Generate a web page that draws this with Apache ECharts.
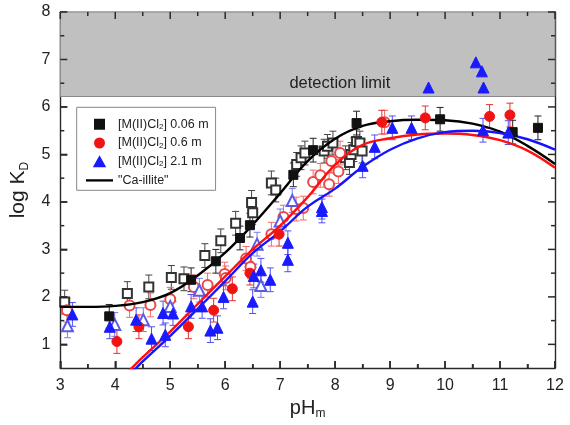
<!DOCTYPE html>
<html>
<head>
<meta charset="utf-8">
<script src="https://cdn.jsdelivr.net/npm/echarts@6/dist/echarts.min.js"></script>
<style>
html,body{margin:0;padding:0;background:#fff;}
#chart{width:570px;height:425px;}
</style>
</head>
<body>
<div id="chart"></div>
<script>
// ---------------- data ----------------
var xMin = 3, xMax = 12, yMin = 0.5, yMax = 8;
var xTickStep = 1;
var xMajorTicks = [3, 4, 5, 6, 7, 8, 9, 10, 11, 12];
var xMinorTicks = [3.5, 4.5, 5.5, 6.5, 7.5, 8.5, 9.5, 10.5, 11.5];
var yTicks = [1, 2, 3, 4, 5, 6, 7, 8];
var yMinorTicks = [1.5, 2.5, 3.5, 4.5, 5.5, 6.5, 7.5];
var detectionLimit = 6.22;
var errHalf = 0.25;

var seriesNames = ['[M(II)Cl2] 0.06 m', '[M(II)Cl2] 0.6 m', '[M(II)Cl2] 2.1 m', '"Ca-illite"'];

var blackFilled = [[3.89,1.59],[5.38,2.36],[5.83,2.75],[6.27,3.24],[6.45,3.51],[7.24,4.57],[7.60,5.09],[8.39,5.66],[9.91,5.74],[11.23,5.47],[11.69,5.56]];
var blackOpen = [[3.08,1.89],[4.22,2.07],[4.61,2.21],[5.02,2.41],[5.25,2.38],[5.63,2.87],[5.92,3.18],[6.19,3.55],[6.48,3.99],[6.50,3.77],[6.84,4.40],[6.92,4.25],[7.30,4.79],[7.38,4.93],[7.45,5.03],[7.80,5.07],[7.86,5.17],[7.96,5.24],[8.19,4.93],[8.26,4.83],[8.29,5.00],[8.34,5.10],[8.39,5.27],[8.45,5.24],[8.49,5.07]];

var redFilled = [[4.03,1.06],[4.43,1.37],[5.33,1.37],[5.79,1.72],[6.13,2.17],[6.45,2.50],[6.98,3.32],[8.85,5.68],[9.64,5.77],[10.81,5.80],[11.18,5.83]];
var redOpen = [[3.12,1.72],[4.26,1.82],[4.64,1.83],[5.00,1.95],[5.43,2.21],[5.68,2.25],[5.99,2.48],[6.01,2.40],[6.38,2.81],[6.46,2.63],[6.84,3.32],[7.06,3.68],[7.29,3.85],[7.42,3.87],[7.60,4.42],[7.73,4.56],[7.89,4.37],[7.93,4.86],[8.06,4.64],[8.09,5.03],[8.90,5.68]];

var blueFilled = [[3.22,1.63],[3.90,1.37],[4.38,1.52],[4.66,1.12],[4.91,1.20],[4.87,1.66],[5.05,1.65],[5.38,1.80],[5.58,1.80],[5.73,1.29],[5.86,1.35],[5.97,2.00],[6.50,1.90],[6.52,2.44],[6.65,2.56],[6.82,2.36],[7.14,3.14],[7.14,2.78],[7.76,3.89],[7.76,3.81],[8.50,4.76],[8.72,5.16],[9.04,5.56],[9.39,5.56],[10.69,5.51],[11.15,5.46]];
var blueAboveLimit = [[9.70,6.41],[10.56,6.94],[10.67,6.75],[10.70,6.41]];
var blueOpen = [[3.13,1.39],[3.99,1.42],[4.51,1.52],[5.00,1.80],[5.53,2.14],[6.58,3.11],[6.65,2.24],[7.00,3.60],[7.22,4.03]];

var curvePH = [3,3.5,4,4.5,5,5.5,6,6.5,7,7.5,8,8.5,9,9.5,10,10.5,11,11.5,12];
var curveCaIllite = [1.79,1.79,1.81,1.89,2.08,2.45,2.93,3.52,4.18,4.86,5.33,5.60,5.70,5.73,5.72,5.65,5.48,5.18,4.80];
var curveRedPH = [4.2,4.3,4.5,5,5.5,6,6.5,7,7.5,8,8.5,9,9.5,10,10.5,11,11.5,12];
var curveRed = [0.38,0.5,0.73,1.27,1.85,2.43,3.0,3.5,4.1,4.78,5.2,5.34,5.42,5.44,5.41,5.30,5.08,4.72];
var curveBluePH = [4.3,4.38,4.5,5,5.5,6,6.5,7,7.5,8,8.5,9,9.5,10,10.5,11,11.5,12];
var curveBlue = [0.4,0.5,0.64,1.18,1.75,2.33,2.92,3.38,3.9,4.28,4.74,5.1,5.34,5.47,5.50,5.45,5.32,5.10];

// ---------------- helpers ----------------
var FONT = 'Arial, "Liberation Sans", sans-serif';
var axisColor = '#2a2a2a';
function zip(xs, ys){ return xs.map(function(x,i){ return [x, ys[i]]; }); }
function withErr(arr){ return arr.map(function(p){ return [p[0], p[1], errHalf]; }); }
function errSeries(arr, color){
  return {
    type:'custom', data: withErr(arr), z:2, clip:true, silent:true,
    encode:{x:0, y:1},
    renderItem:function(params, api){
      var x = api.value(0), y = api.value(1), e = api.value(2);
      var hi = api.coord([x, y+e]), lo = api.coord([x, y-e]);
      var w = 3.5;
      var st = {stroke: color, lineWidth: 1};
      return {type:'group', children:[
        {type:'line', shape:{x1:hi[0], y1:hi[1], x2:lo[0], y2:lo[1]}, style:st},
        {type:'line', shape:{x1:hi[0]-w, y1:hi[1], x2:hi[0]+w, y2:hi[1]}, style:st},
        {type:'line', shape:{x1:lo[0]-w, y1:lo[1], x2:lo[0]+w, y2:lo[1]}, style:st}
      ]};
    }
  };
}
// inward ticks on all four sides of the frame, placed through the axis scales
function tickSeries(values, dim, len){
  var data = values.map(function(v){ return dim === 'x' ? [v, 4] : [7, v]; });
  return {
    type:'custom', data:data, z:8, clip:false, silent:true,
    encode:{x:0, y:1},
    renderItem:function(params, api){
      var st = {stroke: axisColor, lineWidth: 1.5};
      if (dim === 'x') {
        var v = api.value(0);
        var b = api.coord([v, yMin]), t = api.coord([v, yMax]);
        return {type:'group', children:[
          {type:'line', shape:{x1:b[0], y1:b[1], x2:b[0], y2:b[1]-len}, style:st},
          {type:'line', shape:{x1:t[0], y1:t[1], x2:t[0], y2:t[1]+len}, style:st}
        ]};
      }
      var u = api.value(1);
      var l = api.coord([xMin, u]), r = api.coord([xMax, u]);
      return {type:'group', children:[
        {type:'line', shape:{x1:l[0], y1:l[1], x2:l[0]+len, y2:l[1]}, style:st},
        {type:'line', shape:{x1:r[0], y1:r[1], x2:r[0]-len, y2:r[1]}, style:st}
      ]};
    }
  };
}
function scat(name, arr, symbol, size, color, z){
  return {type:'scatter', name:name, data:arr, symbol:symbol, symbolSize:size, z:z,
    itemStyle:{color:color, borderColor:color, borderWidth:1, opacity:1}, silent:true};
}

var tickLabelStyle = {color:'#222', fontSize:16, fontFamily:FONT};

var chart = echarts.init(document.getElementById('chart'), null, {renderer:'canvas'});

var option = {
  backgroundColor:'#fff',
  animation:false,
  grid:{left:56, right:15, top:12, bottom:45.5, containLabel:false},
  legend:{
    orient:'vertical', left:76.7, top:107.3,
    itemWidth:27, itemHeight:9, itemGap:3.7,
    padding:[9.5,7,2.4,9.3],
    symbolKeepAspect:true,
    borderColor:'#888', borderWidth:1, borderRadius:0, backgroundColor:'#fff',
    data:[
      {name:seriesNames[0], icon:'path://M0,0H8V8H0Z'},
      {name:seriesNames[1], icon:'circle'},
      {name:seriesNames[2], icon:'path://M5,0L10,9H0Z'},
      {name:seriesNames[3], icon:'path://M0,0H30V2.6H0Z'}
    ],
    formatter:function(n){ return n.replace('Cl2', 'Cl{sub|2}'); },
    textStyle:{color:'#222', fontSize:12.5, fontFamily:FONT, lineHeight:15,
      rich:{sub:{fontSize:8, fontFamily:FONT, color:'#222', padding:[5,0,0,0]}}},
    selectedMode:false
  },
  xAxis:[
    {type:'value', min:xMin, max:xMax, interval:xTickStep, position:'bottom',
     name:'pH{sub|m}', nameLocation:'middle', nameGap:22,
     nameTextStyle:{color:'#222', fontSize:20, fontFamily:FONT,
       rich:{sub:{fontSize:12, fontFamily:FONT, color:'#222', padding:[12,0,0,0]}}},
     axisLine:{show:true, onZero:false, lineStyle:{color:axisColor, width:1.4}},
     axisTick:{show:true, inside:true, length:7, lineStyle:{color:axisColor, width:1.5}},
     minorTick:{show:true, splitNumber:2, length:4, lineStyle:{color:axisColor, width:1.5}},
     axisLabel:Object.assign({margin:9}, tickLabelStyle),
     splitLine:{show:false}},
    {type:'value', min:xMin, max:xMax, interval:xTickStep, position:'top',
     axisLine:{show:true, onZero:false, lineStyle:{color:axisColor, width:1.4}},
     axisTick:{show:false}, axisLabel:{show:false}, splitLine:{show:false}}
  ],
  yAxis:[
    {type:'value', min:yMin, max:yMax, position:'left',
     name:'log K{sub|D}', nameLocation:'middle', nameGap:22, nameRotate:90,
     nameTextStyle:{color:'#222', fontSize:21, fontFamily:FONT,
       rich:{sub:{fontSize:12, fontFamily:FONT, color:'#222', padding:[12,0,0,0]}}},
     axisLine:{show:true, onZero:false, lineStyle:{color:axisColor, width:1.4}},
     axisTick:{show:true, inside:true, length:7, customValues:yTicks, lineStyle:{color:axisColor, width:1.5}},
     axisLabel:Object.assign({margin:10, customValues:yTicks}, tickLabelStyle),
     splitLine:{show:false}},
    {type:'value', min:yMin, max:yMax, position:'right',
     axisLine:{show:true, onZero:false, lineStyle:{color:axisColor, width:1.4}},
     axisTick:{show:false}, axisLabel:{show:false}, splitLine:{show:false}}
  ],
  series:[
    {type:'line', name:'limitArea', data:[], z:1, silent:true,
     markArea:{silent:true,
       itemStyle:{color:'#c0c0c0', borderColor:'#8a8a8a', borderWidth:1, opacity:1},
       label:{show:true, position:['56.5%','84%'], align:'center', verticalAlign:'middle',
         color:'#222', fontSize:16.5, fontFamily:FONT},
       data:[[{yAxis:detectionLimit, name:'detection limit'}, {yAxis:yMax}]]}},
    errSeries(blackOpen, '#444'),
    errSeries(blackFilled, '#222'),
    errSeries(redOpen, '#f06a6a'),
    errSeries(redFilled, '#e83030'),
    errSeries(blueOpen, '#7a7af2'),
    errSeries(blueFilled, '#5050f0'),
    scat('blackOpen', blackOpen, 'emptyRect', 9, '#333', 3),
    scat('redOpen', redOpen, 'emptyCircle', 10, '#e84848', 3),
    scat('blueOpen', blueOpen, 'emptyTriangle', 11, '#5a5ae8', 3),
    {type:'line', name:seriesNames[3], data:zip(curvePH, curveCaIllite), smooth:0.4, symbol:'none', z:4,
     lineStyle:{color:'#000', width:2.4}, itemStyle:{color:'#000'}, silent:true},
    {type:'line', name:'redFit', data:zip(curveRedPH, curveRed), smooth:0.4, symbol:'none', z:4, clip:true,
     lineStyle:{color:'#ff1010', width:2.4}, silent:true},
    {type:'line', name:'blueFit', data:zip(curveBluePH, curveBlue), smooth:0.4, symbol:'none', z:4, clip:true,
     lineStyle:{color:'#1414ff', width:2.4}, silent:true},
    scat(seriesNames[0], blackFilled, 'rect', 9, '#111', 5),
    scat(seriesNames[1], redFilled, 'circle', 10, '#f01414', 5),
    scat(seriesNames[2], blueFilled, 'triangle', 11, '#1a1aff', 5),
    scat('blueAbove', blueAboveLimit, 'triangle', 11, '#1a1aff', 5),
    tickSeries(xMajorTicks, 'x', 7),
    tickSeries(xMinorTicks, 'x', 4),
    tickSeries(yTicks, 'y', 7),
    tickSeries(yMinorTicks, 'y', 4)
  ]
};
chart.setOption(option);
</script>
</body>
</html>
